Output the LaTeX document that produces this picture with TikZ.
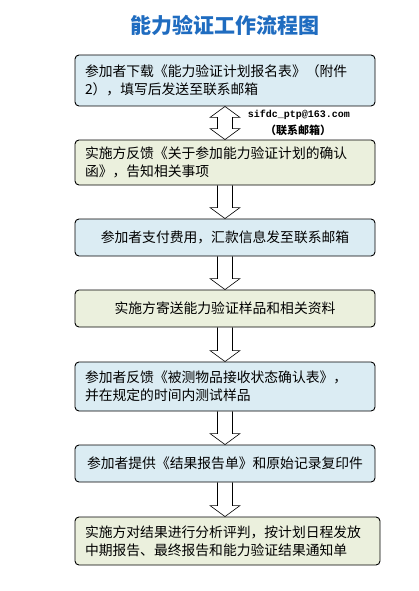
\documentclass[tikz,border=0pt]{standalone}
\usepackage{fontspec}
\setmainfont{Noto Sans CJK SC}
\newfontfamily\titlefont{Noto Sans CJK SC Black}
\newfontfamily\mailfont{Liberation Mono}
\usetikzlibrary{calc}
\usetikzlibrary{backgrounds}
\definecolor{boxblue}{RGB}{219,236,243}
\definecolor{boxgreen}{RGB}{235,240,221}
\definecolor{titleblue}{RGB}{31,108,192}
\tikzset{
  stage/.style={draw, line width=0.9pt, rounded corners=4pt, minimum width=300pt,
    inner xsep=10pt, font=\fontsize{13.8}{18}\selectfont},
  leftstage/.style={stage, text width=280pt, align=left},
  midstage/.style={stage, text width=280pt, align=center},
  flowarrow/.style={draw, fill=white, line width=0.6pt}
}

\begin{document}
\begin{tikzpicture}[x=1pt,y=-1pt]
    \useasboundingbox (0,0) rectangle (419,591);
    \node[font=\titlefont\fontsize{21}{21}\selectfont, text=titleblue] (title) at (225,25) {能力验证工作流程图};
    \node[leftstage, fill=boxblue,  minimum height=51pt] (s1) at (225,80.5) {参加者下载《能力验证计划报名表》（附件\\2），填写后发送至联系邮箱};
    \node[leftstage, fill=boxgreen, minimum height=45pt] (s2) at (225,162.5) {实施方反馈《关于参加能力验证计划的确认\\函》，告知相关事项};
    \node[midstage,  fill=boxblue,  minimum height=37pt] (s3) at (225,237.5) {参加者支付费用，汇款信息发至联系邮箱};
    \node[midstage,  fill=boxgreen, minimum height=37pt] (s4) at (225,308.5) {实施方寄送能力验证样品和相关资料};
    \node[leftstage, fill=boxblue,  minimum height=49pt] (s5) at (225,386.5) {参加者反馈《被测物品接收状态确认表》，\\并在规定的时间内测试样品};
    \node[midstage,  fill=boxblue,  minimum height=37pt] (s6) at (225,463.5) {参加者提供《结果报告单》和原始记录复印件};
    \node[leftstage, fill=boxgreen, minimum height=48pt, minimum width=305pt, text width=285pt] (s7) at (227.5,541) {实施方对结果进行分析评判，按计划日程发放\\中期报告、最终报告和能力验证结果通知单};
    %
    \node[font=\mailfont\bfseries\fontsize{10}{10}\selectfont] (mail) at (299,115) {sifdc\_ptp@163.com};
    \node[font=\bfseries\fontsize{11}{11}\selectfont] (mailnote) at (298,130) {（联系邮箱）};
    %
    \begin{scope}[on background layer]
    \draw[flowarrow] (s1.south) -- ++(15,11) -- ++(-7.5,0) -- ($(s2.north)+(7.5,-11)$) -- ++(7.5,0)
        -- (s2.north) -- ++(-15,-11) -- ++(7.5,0) -- ($(s1.south)+(-7.5,11)$) -- ++(-7.5,0) -- cycle;
    \foreach \a/\b in {s2/s3,s3/s4,s4/s5,s5/s6,s6/s7}
      \draw[flowarrow] ($(\a.south)+(-7.5,0)$) -- ($(\a.south |- \b.north)+(-7.5,-11)$) -- ++(-7.5,0)
        -- (\a.south |- \b.north) -- ++(15,-11) -- ++(-7.5,0) -- ($(\a.south)+(7.5,0)$);
    \end{scope}
\end{tikzpicture}
\end{document}
